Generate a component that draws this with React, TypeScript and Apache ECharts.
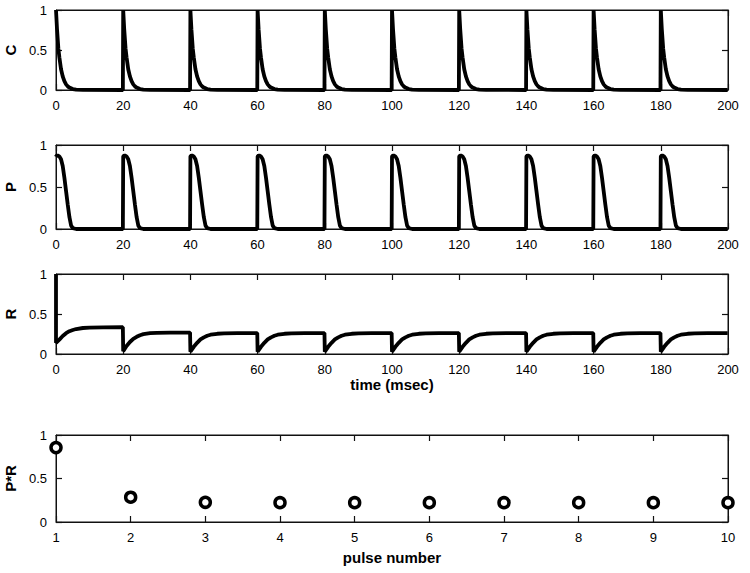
import React, { useEffect, useRef } from "react";
import * as echarts from "echarts";

// pulse onset times (msec)
const pulseTimes = [0, 20, 40, 60, 80, 100, 120, 140, 160, 180];
const timeEnd = 200;
const timeTicks = [0, 20, 40, 60, 80, 100, 120, 140, 160, 180, 200];

// C after each pulse: offsets (msec) and values
const cOffsets = [0, 0.3, 0.7, 1, 1.5, 2, 2.5, 3, 3.5, 4, 5, 6, 8, 19.9];
const cValues = [1, 0.76, 0.52, 0.41, 0.26, 0.17, 0.11, 0.07, 0.045, 0.03, 0.012, 0.005, 0.001, 0];

// P after each pulse
const pOffsets = [0, 0.1, 0.5, 1, 1.5, 2, 2.5, 3, 3.5, 4, 4.5, 5, 6, 19.9];
const pValues = [0.86, 0.87, 0.875, 0.865, 0.83, 0.75, 0.61, 0.45, 0.29, 0.14, 0.04, 0.01, 0, 0];

// R: initial value, then recovery after each pulse
const rInitial = 1;
const rOffsets = [0, 1, 2, 3, 4, 5, 6, 8, 10, 14, 19.9];
const rPulses = [
  [0.14, 0.18, 0.225, 0.26, 0.285, 0.3, 0.312, 0.325, 0.33, 0.333, 0.335],
  [0.035, 0.1, 0.15, 0.19, 0.215, 0.235, 0.248, 0.26, 0.265, 0.267, 0.268],
  [0.03, 0.09, 0.14, 0.182, 0.208, 0.228, 0.241, 0.253, 0.258, 0.261, 0.262],
  [0.03, 0.09, 0.14, 0.182, 0.208, 0.228, 0.241, 0.253, 0.258, 0.261, 0.262],
  [0.03, 0.09, 0.14, 0.182, 0.208, 0.228, 0.241, 0.253, 0.258, 0.261, 0.262],
  [0.03, 0.09, 0.14, 0.182, 0.208, 0.228, 0.241, 0.253, 0.258, 0.261, 0.262],
  [0.03, 0.09, 0.14, 0.182, 0.208, 0.228, 0.241, 0.253, 0.258, 0.261, 0.262],
  [0.03, 0.09, 0.14, 0.182, 0.208, 0.228, 0.241, 0.253, 0.258, 0.261, 0.262],
  [0.03, 0.09, 0.14, 0.182, 0.208, 0.228, 0.241, 0.253, 0.258, 0.261, 0.262],
  [0.03, 0.09, 0.14, 0.182, 0.208, 0.228, 0.241, 0.253, 0.258, 0.261, 0.262],
];

// P*R per pulse
const pulseNumbers = [1, 2, 3, 4, 5, 6, 7, 8, 9, 10];
const prValues = [0.855, 0.285, 0.226, 0.222, 0.222, 0.222, 0.222, 0.222, 0.222, 0.222];

const yTicks = [0, 0.5, 1];

function repeatShape(offsets: number[], values: number[]): number[][] {
  const out: number[][] = [];
  pulseTimes.forEach((t0) => {
    offsets.forEach((o, i) => out.push([t0 + o, values[i]]));
  });
  out.push([timeEnd, values[values.length - 1]]);
  return out;
}

function buildR(): number[][] {
  const out: number[][] = [[0, rInitial]];
  pulseTimes.forEach((t0, k) => {
    rOffsets.forEach((o, i) => out.push([t0 + o, rPulses[k][i]]));
  });
  out.push([timeEnd, rPulses[rPulses.length - 1][rOffsets.length - 1]]);
  return out;
}

const FONT = "Liberation Sans";
const AXIS_COLOR = "#111";

const mkTick = () => ({ show: true, inside: true, length: 6, lineStyle: { color: AXIS_COLOR, width: 1.2 } });
const mkLine = () => ({ show: true, onZero: false, lineStyle: { color: AXIS_COLOR, width: 1 } });
const mkSplit = () => ({ show: true, lineStyle: { color: "rgba(0,0,0,0)", width: 0 } });

export default function App() {
  const ref = useRef<HTMLDivElement>(null);
  useEffect(() => {
    document.body.style.margin = "0";
    if (!ref.current) return;
    const chart = echarts.init(ref.current, undefined, { renderer: "svg" });

    const gridTops = [10, 145, 274, 435];
    const gridHeights = [80, 84, 80, 87];
    const grids = gridTops.map((top, i) => ({
      left: 56,
      right: 22,
      top,
      height: gridHeights[i],
      outerBoundsMode: "none",
      show: true,
      borderColor: AXIS_COLOR,
      borderWidth: 1,
      backgroundColor: "transparent",
    }));

    const labelStyle = () => ({ color: "#000", fontSize: 13, fontFamily: FONT, margin: 9 });
    const nameStyle = () => ({ color: "#000", fontSize: 15, fontWeight: "bold", fontFamily: FONT });
    const blankLabel = () => ({ show: true, formatter: () => "" });

    const xAxes: any[] = [];
    const yAxes: any[] = [];
    grids.forEach((_, gi) => {
      const isPulse = gi === 3;
      const xMin = isPulse ? pulseNumbers[0] : timeTicks[0];
      const xMax = isPulse ? pulseNumbers[pulseNumbers.length - 1] : timeTicks[timeTicks.length - 1];
      const xInt = isPulse ? 1 : 20;
      const xName = gi === 2 ? "time (msec)" : gi === 3 ? "pulse number" : "";
      xAxes.push({
        type: "value",
        gridIndex: gi,
        min: xMin,
        max: xMax,
        interval: xInt,
        position: "bottom",
        splitLine: mkSplit(),
        axisLine: mkLine(),
        axisTick: mkTick(),
        axisLabel: labelStyle(),
        name: xName,
        nameLocation: "middle",
        nameGap: isPulse ? 28 : 22,
        nameTextStyle: nameStyle(),
      });
      xAxes.push({
        type: "value",
        gridIndex: gi,
        min: xMin,
        max: xMax,
        interval: xInt,
        position: "top",
        splitLine: mkSplit(),
        axisLine: mkLine(),
        axisTick: mkTick(),
        axisLabel: blankLabel(),
      });

      const yName = ["C", "P", "R", "P*R"][gi];
      yAxes.push({
        type: "value",
        gridIndex: gi,
        min: yTicks[0],
        max: yTicks[yTicks.length - 1],
        interval: 0.5,
        position: "left",
        splitLine: mkSplit(),
        axisLine: mkLine(),
        axisTick: mkTick(),
        axisLabel: labelStyle(),
        name: yName,
        nameLocation: "middle",
        nameRotate: 90,
        nameGap: 36,
        nameTextStyle: nameStyle(),
      });
      yAxes.push({
        type: "value",
        gridIndex: gi,
        min: yTicks[0],
        max: yTicks[yTicks.length - 1],
        interval: 0.5,
        position: "right",
        splitLine: mkSplit(),
        axisLine: mkLine(),
        axisTick: mkTick(),
        axisLabel: blankLabel(),
      });
    });

    const lineStyle = { color: "#000", width: 3.8 };

    chart.setOption({
      animation: false,
      grid: grids,
      xAxis: xAxes,
      yAxis: yAxes,
      series: [
        {
          type: "line",
          xAxisIndex: 0,
          yAxisIndex: 0,
          data: repeatShape(cOffsets, cValues),
          showSymbol: false,
          clip: false,
          lineStyle,
        },
        {
          type: "line",
          xAxisIndex: 2,
          yAxisIndex: 2,
          data: repeatShape(pOffsets, pValues),
          showSymbol: false,
          clip: false,
          lineStyle,
        },
        {
          type: "line",
          xAxisIndex: 4,
          yAxisIndex: 4,
          data: buildR(),
          showSymbol: false,
          clip: false,
          lineStyle,
        },
        {
          type: "scatter",
          xAxisIndex: 6,
          yAxisIndex: 6,
          data: pulseNumbers.map((n, i) => [n, prValues[i]]),
          symbol: "circle",
          symbolSize: 10,
          clip: false,
          itemStyle: { color: "#fff", borderColor: "#000", borderWidth: 3.5, opacity: 1 },
        },
      ],
    });
    return () => chart.dispose();
  }, []);
  return <div ref={ref} style={{ width: 750, height: 573 }} />;
}
